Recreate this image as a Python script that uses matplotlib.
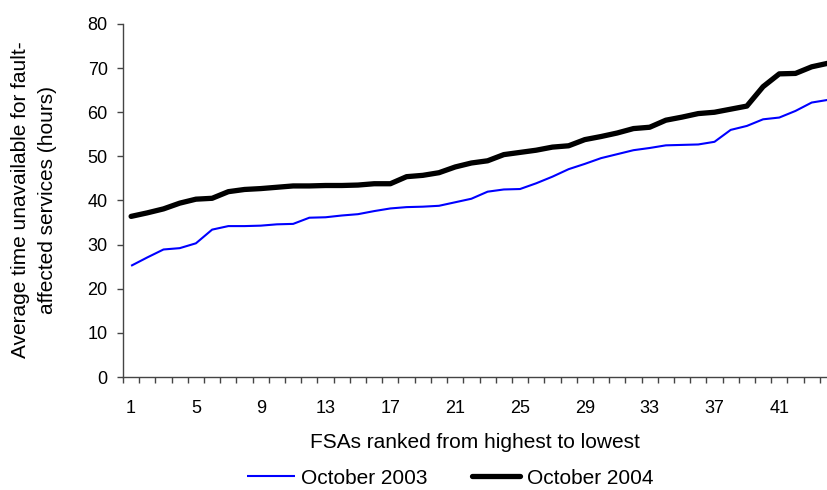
import matplotlib
matplotlib.use("Agg")
import matplotlib.pyplot as plt
import numpy as np
from matplotlib.ticker import FixedLocator, NullFormatter

plt.rcParams['font.family'] = ['Liberation Sans', 'DejaVu Sans']

ranks = list(range(1, 45))
oct_2003 = [25.2, 27.1, 28.9, 29.2, 30.3, 33.4, 34.2, 34.2, 34.3, 34.6,
            34.7, 36.1, 36.2, 36.6, 36.9, 37.6, 38.2, 38.5, 38.6, 38.8,
            39.6, 40.4, 42.0, 42.5, 42.6, 43.9, 45.4, 47.1, 48.3, 49.6,
            50.5, 51.4, 51.9, 52.5, 52.6, 52.7, 53.3, 56.0, 56.9, 58.4,
            58.8, 60.3, 62.2, 62.8]
oct_2004 = [36.4, 37.2, 38.1, 39.4, 40.3, 40.5, 42.0, 42.5, 42.7, 43.0,
            43.3, 43.3, 43.4, 43.4, 43.5, 43.8, 43.8, 45.4, 45.7, 46.3,
            47.6, 48.5, 49.0, 50.4, 50.9, 51.4, 52.1, 52.4, 53.8, 54.5,
            55.3, 56.3, 56.6, 58.2, 58.9, 59.7, 60.0, 60.7, 61.4, 65.8,
            68.7, 68.8, 70.3, 71.1]
series_names = ["October 2003", "October 2004"]
x_label_ranks = list(range(1, 45, 4))
y_ticks = list(range(0, 81, 10))

W, H = 827, 490
fig = plt.figure(figsize=(W / 100, H / 100), dpi=100)
left, right, top, bottom = 123, 836, 24, 377
ax = fig.add_axes([left / W, 1 - bottom / H, (right - left) / W, (bottom - top) / H])

ax.plot(ranks, oct_2003, color='#0000FF', lw=1.5, label=series_names[0], solid_capstyle='butt')
ax.plot(ranks, oct_2004, color='#000000', lw=3.8, label=series_names[1], solid_capstyle='round')

ax.set_xlim(0.5, len(ranks) + 0.5)
ax.set_ylim(0, 80)

ax.spines['top'].set_visible(False)
ax.spines['right'].set_visible(False)
axis_color = '#444444'
for s in ['left', 'bottom']:
    ax.spines[s].set_color(axis_color)
    ax.spines[s].set_linewidth(1.0)

# category boundaries as tick marks, labels at centres
ax.xaxis.set_major_locator(FixedLocator(np.arange(0.5, len(ranks) + 1, 1.0)))
ax.xaxis.set_major_formatter(NullFormatter())
ax.xaxis.set_minor_locator(FixedLocator(x_label_ranks))
ax.set_xticklabels([str(r) for r in x_label_ranks], minor=True)
ax.tick_params(axis='x', which='major', direction='out', length=4.5, width=1.0, color=axis_color)
ax.tick_params(axis='x', which='minor', length=0, pad=16.5, labelsize=13)

ax.set_yticks(y_ticks)
ax.tick_params(axis='y', direction='out', length=4.5, width=1.0, color=axis_color, pad=6.5, labelsize=13)

fig.text(475 / W, 1 - 442 / H, "FSAs ranked from highest to lowest",
         ha='center', va='center', fontsize=15)
fig.text(34 / W, 1 - 200 / H,
         "Average time unavailable for fault-\naffected services (hours)",
         ha='center', va='center', rotation=90, fontsize=15,
         multialignment='center', linespacing=1.5)

leg = fig.legend(loc='center', bbox_to_anchor=(450 / W, 1 - 478 / H), ncol=2,
                 frameon=False, fontsize=15, handlelength=2.3, handletextpad=0.3,
                 columnspacing=2.15, borderaxespad=0, borderpad=0)

fig.savefig("out.png", dpi=100)
